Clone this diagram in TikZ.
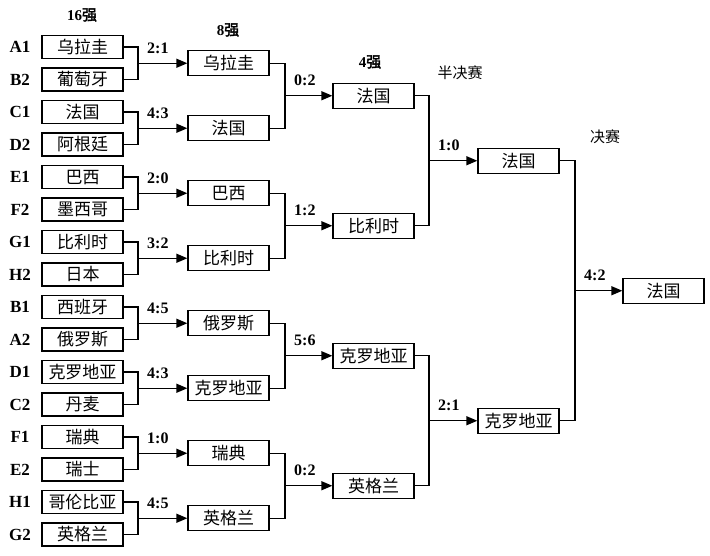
\documentclass[tikz,border=0pt]{standalone}
\usepackage{fontspec}
\setmainfont{Liberation Serif}
\newfontfamily\cjk{Noto Sans CJK SC}[AutoFakeBold=2.5]
\usetikzlibrary{positioning,arrows.meta,calc}
\tikzset{
  entry/.style={draw, line width=1.3pt, minimum width=81pt, minimum height=23pt,
                inner sep=0pt, font=\cjk\fontsize{17}{19}\selectfont},
  team/.style ={entry, minimum height=25pt},
  grp/.style  ={font=\bfseries\fontsize{17}{19}\selectfont},
  score/.style={anchor=base west, inner sep=0pt, font=\bfseries\fontsize{16}{18}\selectfont},
  head/.style ={font=\bfseries\fontsize{15}{17}\selectfont},
  plainhead/.style={font=\cjk\fontsize{15}{17}\selectfont},
  link/.style ={line width=1.3pt},
  % the winner of each pair moves on to the next box
  win/.style  ={link, -{Triangle[length=11pt,width=9pt]}},
}
\def\sixteenlist{A1/乌拉圭, B2/葡萄牙, C1/法国, D2/阿根廷, E1/巴西, F2/墨西哥,
  G1/比利时, H2/日本, B1/西班牙, A2/俄罗斯, D1/克罗地亚, C2/丹麦,
  F1/瑞典, E2/瑞士, H1/哥伦比亚, G2/英格兰}
\def\eightlist{乌拉圭/2:1, 法国/4:3, 巴西/2:0, 比利时/3:2,
  俄罗斯/4:5, 克罗地亚/4:3, 瑞典/1:0, 英格兰/4:5}
\def\fourlist{法国/0:2, 比利时/1:2, 克罗地亚/5:6, 英格兰/0:2}
\def\semilist{法国/1:0, 克罗地亚/2:1}
\def\finallist{法国/4:2}
\newcommand{\koround}[5]{% #1 = previous prefix, #2 = new prefix, #3 = junction x, #4 = box x, #5 = list
  \foreach \w/\sc [count=\j from 0] in #5 {
    \pgfmathtruncatemacro\a{2*\j}
    \pgfmathtruncatemacro\b{2*\j+1}
    \coordinate (#2m\j) at ($(#1\a.east)!.5!(#1\b.east)$);
    \coordinate (#2j\j) at (#3,0 |- #2m\j);
    \node[team] (#2\j) at (#4,0 |- #2m\j) {\w};
    \draw[link] (#1\a.east) -| (#2j\j) |- (#1\b.east);
    \draw[win] (#2j\j) -- (#2\j.west);
    \node[score] at ($(#2j\j)+(9,-10)$) {\sc};
  }}

\begin{document}
\begin{tikzpicture}[x=1pt,y=-1pt]
\useasboundingbox (0,0) rectangle (710,555);
\foreach \g/\t [count=\i from 0] in \sixteenlist {
  \node[entry] (rs\i) at (82.5,{47+32.5*\i}) {\t};
  \node[grp] (gl\i) at (20,{47+32.5*\i}) {\g};
}
\koround{rs}{rq}{138}{228.5}{\eightlist}
\koround{rq}{rh}{285}{373.5}{\fourlist}
\koround{rh}{rf}{429}{518.5}{\semilist}
\koround{rf}{rc}{575}{663.5}{\finallist}
\node[head] (h16) at (82,15) {16{\cjk\bfseries 强}};
\node[head] (h8) at (228,30) {8{\cjk\bfseries 强}};
\node[head] (h4) at (370,62) {4{\cjk\bfseries 强}};
\node[plainhead] (hs) at (460,73) {半决赛};
\node[plainhead] (hf) at (605,137) {决赛};
\end{tikzpicture}
\end{document}
